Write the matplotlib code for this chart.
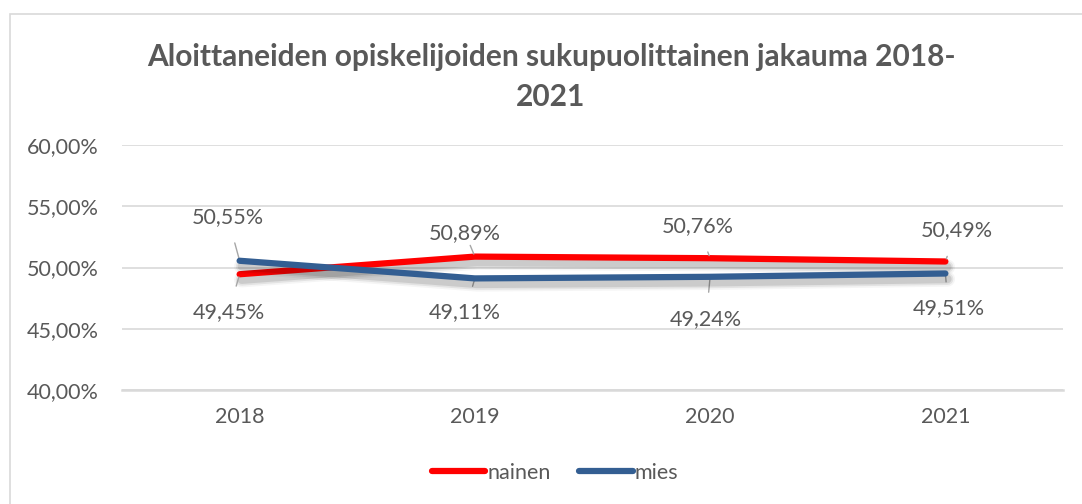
import matplotlib.pyplot as plt
import matplotlib.patheffects as pe
from matplotlib.patches import Rectangle

# data
years = ["2018", "2019", "2020", "2021"]
nainen = [49.45, 50.89, 50.76, 50.49]
mies = [50.55, 49.11, 49.24, 49.51]

# label offsets in pixels (dx, dy)
nainen_offsets = [(-11, -38), (-10, 24), (-12, 32), (11, 31)]
mies_offsets = [(-12, 44), (-10, -34), (-4, -42), (3, -35)]

grey = "#595959"
red = "#FF0000"
blue = "#335E92"

plt.rcParams['font.family'] = ['Lato', 'DejaVu Sans']

fig = plt.figure(figsize=(10.82, 5.04), dpi=100)
fig.patches.append(Rectangle((10 / 1082, -0.1), 1.2, 1 - 14 / 504 + 0.1,
                             transform=fig.transFigure, fill=False,
                             edgecolor="#d9d9d9", linewidth=1.2))

ax = fig.add_axes([122 / 1082, 1 - 390 / 504, (1063 - 122) / 1082, 245 / 504])

x = range(len(years))
# soft blurred shadow under the lines
shadow = [pe.Stroke(offset=(1.5, -4), linewidth=lw, foreground="black", alpha=a)
          for lw, a in [(11, 0.04), (8.5, 0.07), (6, 0.1)]] + [pe.Normal()]
ax.plot(x, nainen, color=red, lw=4.5, solid_capstyle="round", solid_joinstyle="round",
        label="nainen", path_effects=shadow, zorder=3)
ax.plot(x, mies, color=blue, lw=4.5, solid_capstyle="round", solid_joinstyle="round",
        label="mies", path_effects=shadow, zorder=4)

ax.set_xlim(-0.5, 3.5)
ax.set_ylim(40, 60)
ax.set_yticks([40, 45, 50, 55, 60])
ax.set_yticklabels([f"{v:.2f}".replace(".", ",") + "%" for v in [40, 45, 50, 55, 60]])
ax.set_xticks(list(x))
ax.set_xticklabels(years)
ax.tick_params(length=0, labelsize=15.5, colors=grey, pad=12)
ax.tick_params(axis="y", pad=16.5)
ax.grid(axis="y", color="#d9d9d9", lw=1.2)
for s in ["top", "right", "left"]:
    ax.spines[s].set_visible(False)
ax.spines["bottom"].set_color("#d9d9d9")
ax.spines["bottom"].set_linewidth(1.8)
ax.set_axisbelow(True)


def label(vals, offs):
    for i, (v, (dx, dy)) in enumerate(zip(vals, offs)):
        ax.annotate(f"{v:.2f}".replace(".", ",") + "%", xy=(i, v), xytext=(dx, dy),
                    textcoords="offset pixels", ha="center", va="center",
                    fontsize=15.5, color=grey,
                    arrowprops=dict(arrowstyle="-", color="#a6a6a6", lw=1,
                                    shrinkA=10, shrinkB=2))


label(nainen, nainen_offsets)
label(mies, mies_offsets)

fig.text(551 / 1082, 1 - 57 / 504, "Aloittaneiden opiskelijoiden sukupuolittainen jakauma 2018-",
         ha="center", va="center", fontsize=21.5, fontweight="bold", color=grey)
fig.text(551 / 1082, 1 - 97 / 504, "2021",
         ha="center", va="center", fontsize=21.5, fontweight="bold", color=grey)

leg = fig.legend(loc="center", bbox_to_anchor=(555 / 1082, 1 - 473 / 504), ncol=2,
                 frameon=False, fontsize=15.5, handlelength=2.5, handletextpad=0.1,
                 columnspacing=1.3)
for t in leg.get_texts():
    t.set_color(grey)
for h in leg.get_lines():
    h.set_path_effects([])

fig.savefig("out.png", dpi=100)
